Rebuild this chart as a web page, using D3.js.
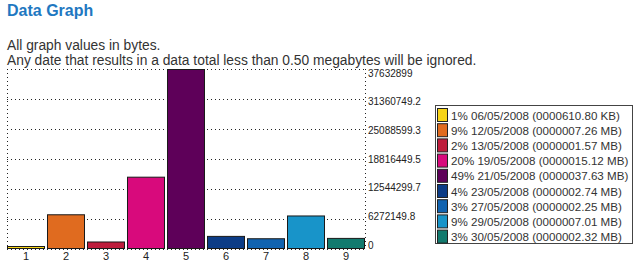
<!DOCTYPE html>
<html><head><meta charset="utf-8">
<script src="https://cdn.jsdelivr.net/npm/d3@7"></script>
<style>body{margin:0;background:#fff;}svg{display:block;}</style>
</head><body>
<script>
const categories = ["1","2","3","4","5","6","7","8","9"];
const values = [610800, 7260000, 1570000, 15120000, 37632899, 2740000, 2250000, 7010000, 2320000];
const colors = ["#f7d417","#e06b1f","#be1d3c","#d80a7c","#5e0059","#0c3c86","#1163b0","#1894c9","#127a6e"];
const legendLabels = [
 "1% 06/05/2008 (0000610.80 KB)",
 "9% 12/05/2008 (0000007.26 MB)",
 "2% 13/05/2008 (0000001.57 MB)",
 "20% 19/05/2008 (0000015.12 MB)",
 "49% 21/05/2008 (0000037.63 MB)",
 "4% 23/05/2008 (0000002.74 MB)",
 "3% 27/05/2008 (0000002.25 MB)",
 "9% 29/05/2008 (0000007.01 MB)",
 "3% 30/05/2008 (0000002.32 MB)"];
const tickValues = [0, 6272149.8, 12544299.7, 18816449.5, 25088599.3, 31360749.2, 37632899];
const tickLabels = ["0","6272149.8","12544299.7","18816449.5","25088599.3","31360749.2","37632899"];

(function () {
const W = 640, H = 268;
const svg = d3.select("body").append("svg").attr("width", W).attr("height", H);
const font = "Liberation Sans, Arial, sans-serif";

svg.append("text").attr("x", 7).attr("y", 16).text("Data Graph")
  .attr("font-family", font).attr("font-weight", "bold").attr("font-size", 16).attr("fill", "#1f78c1");
svg.append("text").attr("x", 7).attr("y", 50).text("All graph values in bytes.")
  .attr("font-family", font).attr("font-size", 13.8).attr("fill", "#333");
svg.append("text").attr("x", 7).attr("y", 65).text("Any date that results in a data total less than 0.50 megabytes will be ignored.")
  .attr("font-family", font).attr("font-size", 13.8).attr("fill", "#333");

const pLeft = 7, pRight = 365, pTop = 69, pBottom = 249;
const x = d3.scaleBand().domain(categories).range([pLeft - 1, pRight + 1]).paddingInner(0.05).paddingOuter(0.025);
const y = d3.scaleLinear().domain([0, d3.max(tickValues)]).range([pBottom, pTop]);
// labels of the value axis sit in a slightly narrower band than the gridlines
const yLab = d3.scaleLinear().domain([0, d3.max(tickValues)]).range([245, 73]);

const g = svg.append("g");
g.selectAll("line.grid").data(tickValues).join("line")
  .attr("x1", pLeft).attr("x2", pRight)
  .attr("y1", d => Math.round(y(d)) + 0.5).attr("y2", d => Math.round(y(d)) + 0.5)
  .attr("stroke", "#222").attr("stroke-width", 1).attr("stroke-dasharray", "1,3");
[pLeft, pRight].forEach(xx => g.append("line").attr("x1", xx + 0.5).attr("x2", xx + 0.5)
  .attr("y1", pTop).attr("y2", pBottom).attr("stroke", "#222").attr("stroke-dasharray", "1,3"));

g.selectAll("rect.bar").data(values).join("rect")
  .attr("x", (d, i) => x(categories[i]) + 0.5)
  .attr("width", x.bandwidth() - 1)
  .attr("y", d => Math.min(y(d), pBottom - 3) + 0.5)
  .attr("height", d => Math.max(3, pBottom - y(d)) - 1)
  .attr("fill", (d, i) => colors[i]).attr("stroke", "#1a1a1a").attr("stroke-width", 1);

const xAxis = d3.axisBottom(x).tickSize(0).tickPadding(3);
const xg = svg.append("g").attr("transform", `translate(0,${pBottom})`).call(xAxis);
xg.select(".domain").remove();
xg.selectAll("text").attr("font-family", font).attr("font-size", 11).attr("fill", "#222");

const yAxis = d3.axisRight(yLab).tickValues(tickValues).tickFormat((d, i) => tickLabels[i]).tickSize(0).tickPadding(3);
const yg = svg.append("g").attr("transform", `translate(${pRight},0)`).call(yAxis);
yg.select(".domain").remove();
yg.selectAll("text").attr("font-family", font).attr("font-size", 10).attr("fill", "#222");

const lx = 435, ly = 105, lw = 197, lh = 138, rowH = 15.2;
svg.append("rect").attr("x", lx + 0.5).attr("y", ly + 0.5).attr("width", lw).attr("height", lh)
  .attr("fill", "#fff").attr("stroke", "#444");
const lg = svg.append("g");
legendLabels.forEach((t, i) => {
  const cy = ly + 10 + i * rowH;
  lg.append("rect").attr("x", lx + 2.5).attr("y", cy - 6.5).attr("width", 10).attr("height", 13)
    .attr("fill", colors[i]).attr("stroke", "#222");
  lg.append("text").attr("x", lx + 16).attr("y", cy + 4.5).text(t)
    .attr("font-family", font).attr("font-size", 11.6).attr("fill", "#333");
});
})();
</script>
</body></html>
